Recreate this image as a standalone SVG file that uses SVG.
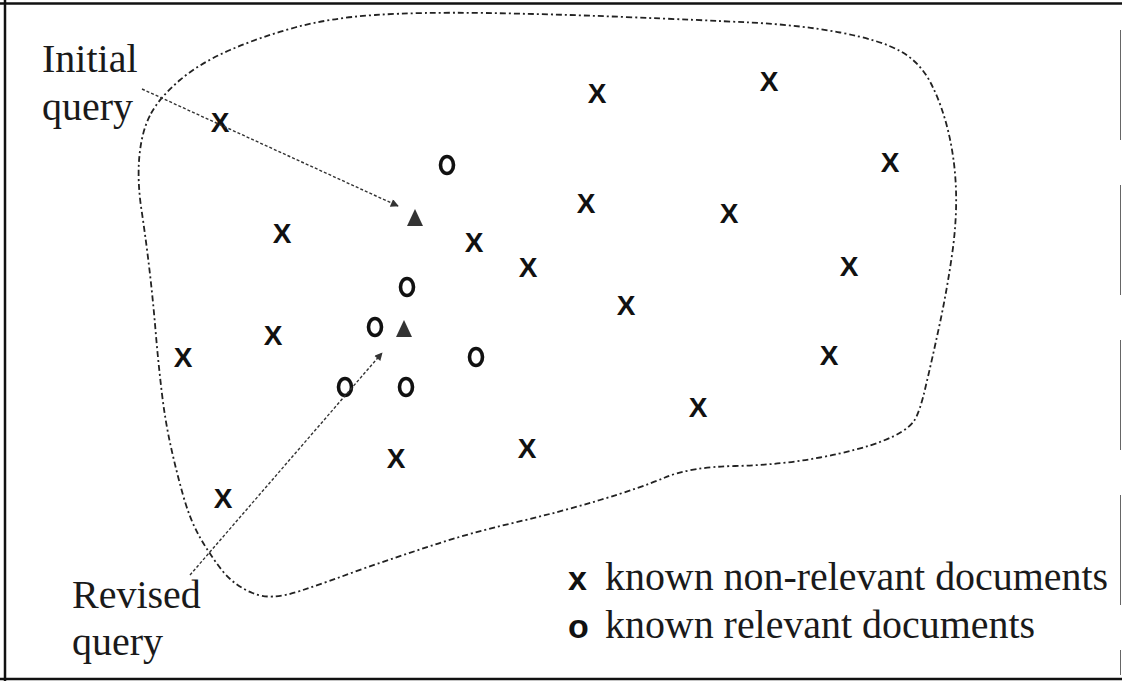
<svg xmlns="http://www.w3.org/2000/svg" width="1122" height="681" viewBox="0 0 1122 681">
<style>
.lbl{font-family:"Liberation Serif","Times New Roman",serif;font-size:40px;fill:#1a1a1a}
.xm{font-family:"Liberation Sans",Arial,sans-serif;font-size:28px;font-weight:bold;fill:#111;text-anchor:middle}
.lm{font-family:"Liberation Sans",Arial,sans-serif;font-size:34px;font-weight:bold;fill:#111}
.om{fill:none;stroke:#111;stroke-width:3.6}
.blob{fill:none;stroke:#222;stroke-width:1.8;stroke-dasharray:6 3 2 3}
.arr{fill:none;stroke:#333;stroke-width:1.4;stroke-dasharray:3 2}
.q{fill:#333}
</style>
<defs>
<marker id="ah" viewBox="0 0 10 10" refX="9" refY="5" markerWidth="10" markerHeight="8" markerUnits="userSpaceOnUse" orient="auto"><path d="M0,0 L10,5 L0,10 z" fill="#333"/></marker>
</defs>
<rect width="1122" height="681" fill="#fff"/>
<g id="frame" fill="none" stroke="#111">
<line x1="0" y1="3.5" x2="1122" y2="3.5" stroke-width="2.5"/>
<line x1="5" y1="0" x2="5" y2="681" stroke-width="2.5"/>
<line x1="0" y1="679" x2="1122" y2="679" stroke-width="2.5"/>
<line x1="1120.5" y1="30" x2="1120.5" y2="675" stroke-width="1" stroke="#666" stroke-dasharray="110 45"/>
</g>
<g id="space">
<path class="blob" d="M151,113.5 Q160,97 180,80 Q200,63 230,50 Q260,37 295,27.5 Q330,18 375,15 Q420,12 485,13 Q550,14 625,17 Q700,20 750,22.5 Q800,25 840,32.5 Q880,40 900,51 Q920,62 931,83.5 Q942,105 948.5,132.5 Q955,160 956,190 Q957,220 952,255 Q947,290 939.5,325 Q932,360 926,385 Q920,412 914,421 Q906,432 882.5,441 Q860,450 820,457.5 Q780,465 735,466 Q690,467 665,477.5 Q640,488 600,500 Q560,512 515,522.5 Q470,533 435,544.5 Q400,556 365,568 Q330,581 300,591 Q270,601 252.5,593 Q235,586 222.5,571 Q210,555 200,537.5 Q190,520 183,495 Q176,470 170.5,445 Q165,420 161.5,390 Q158,360 155.5,330 Q153,300 149.5,270 Q146,240 141.5,210 Q137,180 139.5,155 Q142,130 151,113.5 Z"/>
</g>
<g id="nonrelevant">
<text class="xm" x="220" y="132">X</text>
<text class="xm" x="597" y="103">X</text>
<text class="xm" x="769" y="91">X</text>
<text class="xm" x="890" y="172">X</text>
<text class="xm" x="729" y="223">X</text>
<text class="xm" x="586" y="213">X</text>
<text class="xm" x="282" y="243">X</text>
<text class="xm" x="474" y="252">X</text>
<text class="xm" x="528" y="277">X</text>
<text class="xm" x="849" y="276">X</text>
<text class="xm" x="626" y="315">X</text>
<text class="xm" x="273" y="345">X</text>
<text class="xm" x="183" y="367">X</text>
<text class="xm" x="829" y="365">X</text>
<text class="xm" x="698" y="417">X</text>
<text class="xm" x="527" y="458">X</text>
<text class="xm" x="396" y="468">X</text>
<text class="xm" x="223" y="508">X</text>
</g>
<g id="relevant">
<ellipse class="om" cx="447" cy="165" rx="6.5" ry="8.5"/>
<ellipse class="om" cx="407" cy="287" rx="6.5" ry="8.5"/>
<ellipse class="om" cx="375" cy="327" rx="6.5" ry="8.5"/>
<ellipse class="om" cx="476" cy="357" rx="6.5" ry="8.5"/>
<ellipse class="om" cx="345" cy="387" rx="6.5" ry="8.5"/>
<ellipse class="om" cx="406" cy="387" rx="6.5" ry="8.5"/>
</g>
<g id="initial-query">
<polygon class="q" points="415,209 407,226 423,226"/>
<text class="lbl" x="42" y="72">Initial</text>
<text class="lbl" x="42" y="120">query</text>
</g>
<g id="revised-query">
<polygon class="q" points="404,320 396,337 412,337"/>
<text class="lbl" x="72" y="608">Revised</text>
<text class="lbl" x="72" y="655">query</text>
</g>
<g id="connectors">
<line class="arr" x1="142" y1="89" x2="398" y2="206" marker-end="url(#ah)"/>
<line class="arr" x1="190" y1="575" x2="382" y2="353" stroke-width="1.1" marker-end="url(#ah)"/>
</g>
<g id="legend">
<text class="lm" x="568" y="590">x</text>
<text class="lbl" x="605" y="590" textLength="503" lengthAdjust="spacingAndGlyphs">known non-relevant documents</text>
<text class="lm" x="568" y="638">o</text>
<text class="lbl" x="605" y="638" textLength="430" lengthAdjust="spacingAndGlyphs">known relevant documents</text>
</g>
</svg>
